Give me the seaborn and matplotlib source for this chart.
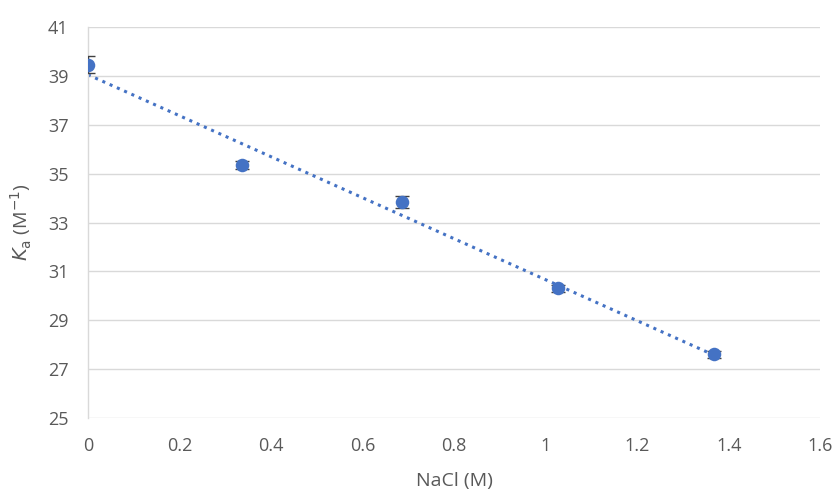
import numpy as np
import pandas as pd
import matplotlib
matplotlib.use("Agg")
import matplotlib.pyplot as plt
import seaborn as sns

nacl = [0.0, 0.337, 0.686, 1.027, 1.368]
ka = [39.47, 35.35, 33.85, 30.30, 27.60]
ka_err = [0.35, 0.15, 0.25, 0.15, 0.15]
xticks = [0, 0.2, 0.4, 0.6, 0.8, 1, 1.2, 1.4, 1.6]
yticks = [25, 27, 29, 31, 33, 35, 37, 39, 41]

sns.set_theme(style="white")
plt.rcParams['font.family'] = ['Open Sans', 'DejaVu Sans']

df = pd.DataFrame({"NaCl": nacl, "Ka": ka, "err": ka_err})

fig = plt.figure(figsize=(8.37, 4.95), dpi=100)
ax = fig.add_axes([0.105, 0.156, 0.875, 0.789])

blue = "#4472C4"
gray = "#595959"

for yv in yticks:
    ax.axhline(yv, color="#D9D9D9", lw=1, zorder=0)

# trendline
slope, intercept = np.polyfit(nacl, ka, 1)
xt = np.array([min(nacl), max(nacl)])
ax.plot(xt, slope * xt + intercept, color=blue, lw=2.2, ls=(0, (1, 1.6)), zorder=2)

ax.errorbar(df["NaCl"], df["Ka"], yerr=df["err"], fmt="none", ecolor="#404040",
            elinewidth=1, capsize=5, capthick=1, zorder=3)
sns.scatterplot(data=df, x="NaCl", y="Ka", ax=ax, color=blue, s=95,
                edgecolor=blue, linewidth=0, zorder=4)

ax.set_xlim(0, 1.6)
ax.set_ylim(25, 41)
ax.set_xticks(xticks)
ax.set_xticklabels([f"{v:g}" for v in xticks])
ax.set_yticks(yticks)
for s in ["top", "right", "bottom"]:
    ax.spines[s].set_visible(False)
ax.spines["left"].set_color("#D9D9D9")
ax.spines["left"].set_linewidth(1)
ax.tick_params(axis="x", colors=gray, labelsize=13, length=0, pad=14)
ax.tick_params(axis="y", colors=gray, labelsize=13, length=0, pad=14)
ax.set_xlabel("NaCl (M)", color=gray, fontsize=14, labelpad=12)
ax.set_ylabel(r"$K_\mathrm{a}$ (M$^{-1}$)", color=gray, fontsize=14, labelpad=10)

fig.savefig("out.png", dpi=100)
